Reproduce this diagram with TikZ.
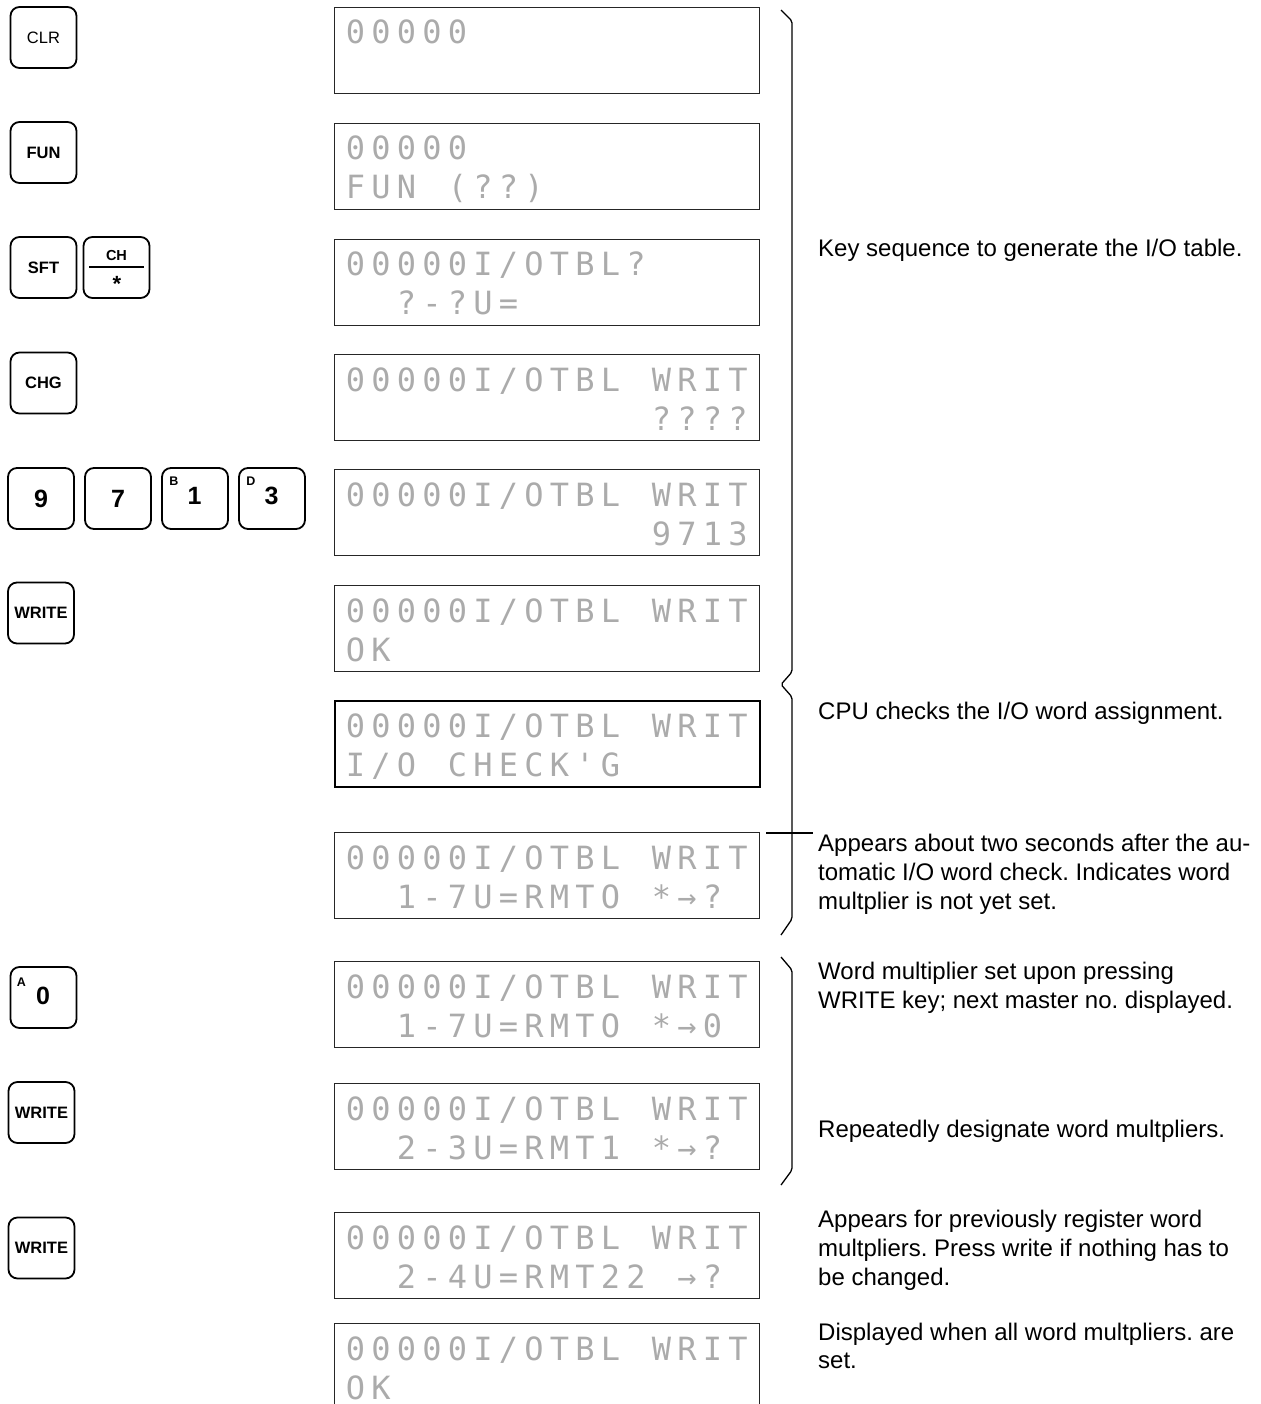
\documentclass[tikz,border=0pt]{standalone}
\usepackage{fontspec}
\setmainfont{Liberation Sans}
\newfontfamily\lcdfont{DejaVu Sans Mono}
\frenchspacing
\def\lcdloop#1{\ifx#1\relax\else\ifx#1|\makebox[25.5pt]{}\else\makebox[25.5pt][c]{#1}\fi\expandafter\lcdloop\fi}
\newcommand\lcdline[1]{\lcdloop#1\relax}
\tikzset{
  key/.style={draw,line width=1.8pt,rounded corners=9pt,minimum width=66pt,minimum height=61pt,inner sep=0pt,font=\fontsize{16.5}{16.5}\selectfont\bfseries},
  digit/.style={inner sep=0pt,font=\fontsize{25}{25}\selectfont\bfseries},
  sup/.style={inner sep=0pt,font=\fontsize{12.5}{12.5}\selectfont\bfseries},
  lcd/.style={draw=black!85,line width=1.3pt,minimum width=425pt,minimum height=86pt,inner sep=0pt,anchor=north west},
  lcdtxt/.style={anchor=base west,inner sep=0pt,text=black!33,font=\lcdfont\fontsize{32}{32}\selectfont},
  note/.style={anchor=base west,inner sep=0pt,font=\fontsize{24}{28}\selectfont},
  brace/.style={line width=1.3pt,rounded corners=2pt}
}
\newcommand\lcdbox[5]{%
  \node[lcd,#5] (#1) at (334,#2) {};
  \node[lcdtxt] (#1a) at (342.5,{#2+37}) {\lcdline{#3}};
  \node[lcdtxt] (#1b) at (342.5,{#2+76}) {\lcdline{#4}};
}
\begin{document}
\begin{tikzpicture}[x=1pt,y=-1pt]
\useasboundingbox (0,0) rectangle (1260,1404);
% keys
\node[key,font=\fontsize{16.5}{16.5}\selectfont] (kclr) at (43.5,37.5) {CLR};
\node[key] (kfun) at (43.5,152.5) {FUN};
\node[key] (ksft) at (43.5,267.5) {SFT};
\node[key] (kch) at (116.5,267.5) {};
\draw[line width=1.3pt] (89,267) -- (144,267);
\node[inner sep=0pt,font=\fontsize{14.5}{14.5}\selectfont\bfseries] (kcht) at (116.5,256) {CH};
\node[inner sep=0pt,font=\fontsize{22}{22}\selectfont\bfseries] (kchs) at (117,284) {*};
\node[key] (kchg) at (43.5,383) {CHG};
\node[key,font=\fontsize{25}{25}\selectfont\bfseries] (k9) at (41,498.5) {9};
\node[key,font=\fontsize{25}{25}\selectfont\bfseries] (k7) at (118,498.5) {7};
\node[key] (k1) at (195,498.5) {};
\node[sup] (k1s) at (174,481) {B};
\node[digit] (k1d) at (194.5,495.5) {1};
\node[key] (k3) at (272,498.5) {};
\node[sup] (k3s) at (251,481) {D};
\node[digit] (k3d) at (271.5,495.5) {3};
\node[key] (kw1) at (41,613) {WRITE};
\node[key] (k0) at (43.5,997.5) {};
\node[sup] (k0s) at (21.5,982.5) {A};
\node[digit] (k0d) at (43,995.5) {0};
\node[key] (kw2) at (41.5,1112.5) {WRITE};
\node[key] (kw3) at (41.5,1248) {WRITE};
% displays
\lcdbox{d1}{7}{00000}{}{}
\lcdbox{d2}{123}{00000}{FUN|(??)}{}
\lcdbox{d3}{239}{00000I/OTBL?}{||?-?U=}{}
\lcdbox{d4}{354}{00000I/OTBL|WRIT}{||||||||||||????}{}
\lcdbox{d5}{469}{00000I/OTBL|WRIT}{||||||||||||9713}{}
\lcdbox{d6}{585}{00000I/OTBL|WRIT}{OK}{}
\lcdbox{d7}{700}{00000I/OTBL|WRIT}{I/O|CHECK'G}{draw=black,line width=2.4pt}
\lcdbox{d8}{832}{00000I/OTBL|WRIT}{||1-7U=RMTO|*→?}{}
\lcdbox{d9}{961}{00000I/OTBL|WRIT}{||1-7U=RMTO|*→0}{}
\lcdbox{d10}{1083}{00000I/OTBL|WRIT}{||2-3U=RMT1|*→?}{}
\lcdbox{d11}{1212}{00000I/OTBL|WRIT}{||2-4U=RMT22|→?}{}
\lcdbox{d12}{1323}{00000I/OTBL|WRIT}{OK}{minimum height=100pt}
% braces
\draw[brace] (781,10) -- (792,21) -- (792,672) -- (781,684.5) -- (792,697) -- (792,919) -- (781,935);
\draw[brace] (781,957) -- (792,970) -- (792,1170) -- (781,1185);
\coordinate (t1) at (766,833);
\coordinate (t2) at (813,833);
\draw[line width=1.6pt] (t1) -- (t2);
% notes
\node[note] (n1) at (818,257) {Key sequence to generate the I/O table.};
\node[note] (n2) at (818,719) {CPU checks the I/O word assignment.};
\node[note] (n3a) at (818,851) {Appears about two seconds after the au-};
\node[note] (n3b) at (818,880) {tomatic I/O word check. Indicates word};
\node[note] (n3c) at (818,909) {multplier is not yet set.};
\node[note] (n4a) at (818,979) {Word multiplier set upon pressing};
\node[note] (n4b) at (818,1008) {WRITE key; next master no. displayed.};
\node[note] (n5) at (818,1137) {Repeatedly designate word multpliers.};
\node[note] (n6a) at (818,1227) {Appears for previously register word};
\node[note] (n6b) at (818,1256) {multpliers. Press write if nothing has to};
\node[note] (n6c) at (818,1285) {be changed.};
\node[note] (n7a) at (818,1340) {Displayed when all word multpliers. are};
\node[note] (n7b) at (818,1368) {set.};
\end{tikzpicture}
\end{document}
